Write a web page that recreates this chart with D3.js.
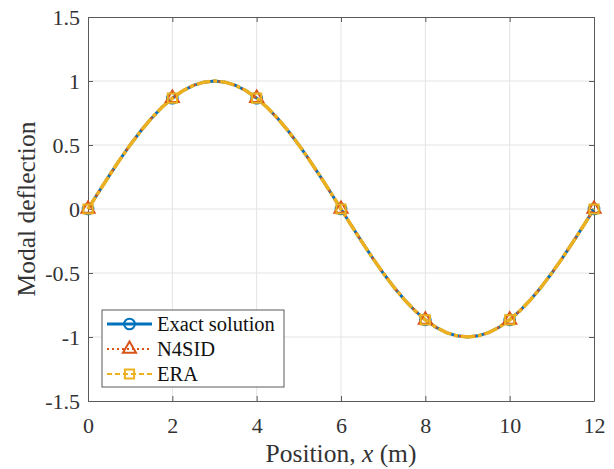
<!DOCTYPE html>
<html><head><meta charset="utf-8">
<script src="https://cdn.jsdelivr.net/npm/d3@7"></script>
<style>body{margin:0;background:#fff}svg{display:block}</style>
</head><body>
<svg id="c" width="614" height="469" font-family="Liberation Serif"></svg>
<script>
const curveX = [0,0.25,0.5,0.75,1,1.25,1.5,1.75,2,2.25,2.5,2.75,3,3.25,3.5,3.75,4,4.25,4.5,4.75,5,5.25,5.5,5.75,6,6.25,6.5,6.75,7,7.25,7.5,7.75,8,8.25,8.5,8.75,9,9.25,9.5,9.75,10,10.25,10.5,10.75,11,11.25,11.5,11.75,12];
const exactY = [0,0.131,0.259,0.383,0.5,0.609,0.707,0.793,0.866,0.924,0.966,0.991,1,0.991,0.966,0.924,0.866,0.793,0.707,0.609,0.5,0.383,0.259,0.131,0,-0.131,-0.259,-0.383,-0.5,-0.609,-0.707,-0.793,-0.866,-0.924,-0.966,-0.991,-1,-0.991,-0.966,-0.924,-0.866,-0.793,-0.707,-0.609,-0.5,-0.383,-0.259,-0.131,0];
const n4sidY = [0,0.131,0.259,0.383,0.5,0.609,0.707,0.793,0.866,0.924,0.966,0.991,1,0.991,0.966,0.924,0.866,0.793,0.707,0.609,0.5,0.383,0.259,0.131,0,-0.131,-0.259,-0.383,-0.5,-0.609,-0.707,-0.793,-0.866,-0.924,-0.966,-0.991,-1,-0.991,-0.966,-0.924,-0.866,-0.793,-0.707,-0.609,-0.5,-0.383,-0.259,-0.131,0];
const eraY = [0,0.131,0.259,0.383,0.5,0.609,0.707,0.793,0.866,0.924,0.966,0.991,1,0.991,0.966,0.924,0.866,0.793,0.707,0.609,0.5,0.383,0.259,0.131,0,-0.131,-0.259,-0.383,-0.5,-0.609,-0.707,-0.793,-0.866,-0.924,-0.966,-0.991,-1,-0.991,-0.966,-0.924,-0.866,-0.793,-0.707,-0.609,-0.5,-0.383,-0.259,-0.131,0];
const markerX = [0,2,4,6,8,10,12];
const markerExact = [0,0.866,0.866,0,-0.866,-0.866,0];
const markerN4SID = [0,0.866,0.866,0,-0.866,-0.866,0];
const markerERA = [0,0.866,0.866,0,-0.866,-0.866,0];
const xTicks = [0,2,4,6,8,10,12];
const yTicks = [-1.5,-1,-0.5,0,0.5,1,1.5];
const seriesNames = ["Exact solution","N4SID","ERA"];

const svg = d3.select("#c");
const FF = "Liberation Serif";
const L = 88, R = 594, T = 17, B = 401;
const x = d3.scaleLinear().domain([0,12]).range([L,R]);
const y = d3.scaleLinear().domain([-1.5,1.5]).range([B,T]);
const axisCol = "#5a5a5a";

// grid
const g = svg.append("g");
g.selectAll(".gx").data(xTicks.slice(1,-1)).enter().append("line")
  .attr("x1",d=>x(d)).attr("x2",d=>x(d)).attr("y1",T).attr("y2",B)
  .attr("stroke","#e3e3e3").attr("stroke-width",1);
g.selectAll(".gy").data(yTicks.slice(1,-1)).enter().append("line")
  .attr("y1",d=>y(d)).attr("y2",d=>y(d)).attr("x1",L).attr("x2",R)
  .attr("stroke","#e3e3e3").attr("stroke-width",1);

// axes
const ax = svg.append("g").attr("transform",`translate(0,${B})`)
  .call(d3.axisBottom(x).tickValues(xTicks).tickSizeInner(-5).tickSizeOuter(0).tickPadding(16));
const ay = svg.append("g").attr("transform",`translate(${L},0)`)
  .call(d3.axisLeft(y).tickValues(yTicks).tickSizeInner(-5).tickSizeOuter(0).tickPadding(8).tickFormat(d=>String(d)));
const axT = svg.append("g").attr("transform",`translate(0,${T})`)
  .call(d3.axisTop(x).tickValues(xTicks).tickSizeInner(-5).tickSizeOuter(0).tickFormat(""));
const ayR = svg.append("g").attr("transform",`translate(${R},0)`)
  .call(d3.axisRight(y).tickValues(yTicks).tickSizeInner(-5).tickSizeOuter(0).tickFormat(""));
[ax,ay,axT,ayR].forEach(a=>{
  a.attr("font-family",FF).attr("font-size",22);
  a.select(".domain").attr("stroke",axisCol).attr("stroke-width",1);
  a.selectAll(".tick line").attr("stroke",axisCol);
  a.selectAll(".tick text").attr("fill","#333").attr("font-family",FF).attr("font-size",22);
});

// lines
const pts = ys => curveX.map((v,i)=>[v,ys[i]]);
const line = d3.line().x(d=>x(d[0])).y(d=>y(d[1]));
const cols = ["#0072BD","#D95319","#EDB120"];
svg.append("path").attr("d",line(pts(exactY))).attr("fill","none").attr("stroke",cols[0]).attr("stroke-width",3);
svg.append("path").attr("d",line(pts(n4sidY))).attr("fill","none").attr("stroke",cols[1]).attr("stroke-width",2.5).attr("stroke-dasharray","2,3");
svg.append("path").attr("d",line(pts(eraY))).attr("fill","none").attr("stroke",cols[2]).attr("stroke-width",3.5).attr("stroke-dasharray","14,3,4,3");

// markers
const circ = d3.symbol().type(d3.symbolCircle).size(90);
const tri = d3.symbol().type(d3.symbolTriangle).size(75);
const sq = d3.symbol().type(d3.symbolSquare).size(85);
function markers(ys, sym, col){
  svg.append("g").selectAll("path").data(markerX.map((v,i)=>[v,ys[i]])).enter().append("path")
    .attr("d",sym).attr("transform",d=>`translate(${x(d[0])},${y(d[1])})`)
    .attr("fill","none").attr("stroke",col).attr("stroke-width",2);
}
markers(markerExact, circ, cols[0]);
markers(markerN4SID, tri, cols[1]);
markers(markerERA, sq, cols[2]);

// axis labels
const xl = svg.append("text").attr("x",(L+R)/2).attr("y",462).attr("text-anchor","middle")
  .attr("font-family",FF).attr("font-size",25.5).attr("fill","#333");
xl.append("tspan").text("Position, ");
xl.append("tspan").attr("font-style","italic").text("x");
xl.append("tspan").text(" (m)");
svg.append("text").attr("transform",`translate(35,${(T+B)/2}) rotate(-90)`).attr("text-anchor","middle")
  .attr("font-family",FF).attr("font-size",25.5).attr("fill","#333").text("Modal deflection");

// legend
const lg = svg.append("g");
lg.append("rect").attr("x",102).attr("y",310).attr("width",182).attr("height",77)
  .attr("fill","#fff").attr("stroke",axisCol).attr("stroke-width",1);
const ly = [324,349,374];
const dashes = [null,"2,3","5,3"];
const widths = [3,2,2];
const syms = [circ,tri,sq];
seriesNames.forEach((n,i)=>{
  lg.append("line").attr("x1",107).attr("x2",152).attr("y1",ly[i]).attr("y2",ly[i])
    .attr("stroke",cols[i]).attr("stroke-width",widths[i]).attr("stroke-dasharray",dashes[i]);
  lg.append("path").attr("d",syms[i]).attr("transform",`translate(129.5,${ly[i]})`)
    .attr("fill","none").attr("stroke",cols[i]).attr("stroke-width",2);
  lg.append("text").attr("x",157).attr("y",ly[i]+7).attr("font-family",FF).attr("font-size",20.5)
    .attr("fill","#111").text(n);
});
</script>
</body></html>
